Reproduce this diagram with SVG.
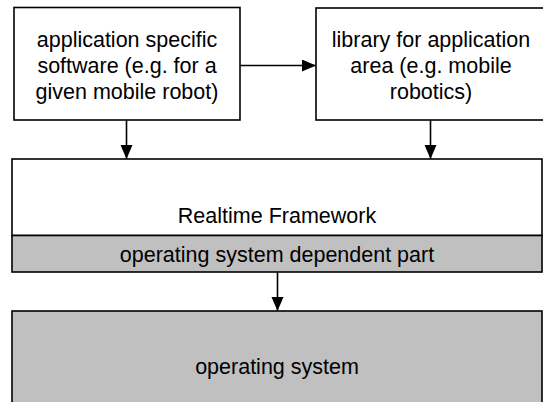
<svg xmlns="http://www.w3.org/2000/svg" width="543" height="402" viewBox="0 0 543 402">
  <style>
    .box { fill: #ffffff; stroke: #000000; stroke-width: 1.6; }
    .grey { fill: #c0c0c0; stroke: #000000; stroke-width: 1.6; }
    .lbl { font-family: "Liberation Sans", Arial, sans-serif; font-size: 21.5px; fill: #000000; text-anchor: middle; }
    .wire { stroke: #000000; stroke-width: 1.6; fill: none; }
  </style>
  <defs>
    <marker id="arrow" markerUnits="userSpaceOnUse" markerWidth="16" markerHeight="14" refX="14" refY="6" orient="auto">
      <path d="M0,0 L14,6 L0,12 Z" fill="#000000"/>
    </marker>
  </defs>
  <rect width="543" height="402" fill="#ffffff"/>

  <g id="app-software">
    <rect class="box" x="14" y="7.5" width="226" height="112.5"/>
    <text class="lbl" x="127" y="47">application specific</text>
    <text class="lbl" x="127" y="73">software (e.g. for a</text>
    <text class="lbl" x="127" y="99">given mobile robot)</text>
  </g>

  <g id="app-library">
    <rect class="box" x="316" y="8" width="232" height="112"/>
    <text class="lbl" x="431" y="47">library for application</text>
    <text class="lbl" x="431" y="73">area (e.g. mobile</text>
    <text class="lbl" x="431" y="99">robotics)</text>
  </g>

  <g id="realtime-framework">
    <rect class="box" x="12" y="159" width="530" height="76.5"/>
    <text class="lbl" x="277" y="222.5">Realtime Framework</text>
    <rect class="grey" x="12" y="235.5" width="530" height="36.5"/>
    <text class="lbl" x="277" y="262">operating system dependent part</text>
  </g>

  <g id="operating-system">
    <rect class="grey" x="12" y="311" width="530" height="110"/>
    <text class="lbl" x="277" y="374">operating system</text>
  </g>

  <g id="connectors">
    <line class="wire" x1="240" y1="65.5" x2="316" y2="65.5" marker-end="url(#arrow)"/>
    <line class="wire" x1="126.5" y1="120" x2="126.5" y2="159" marker-end="url(#arrow)"/>
    <line class="wire" x1="430.5" y1="120" x2="430.5" y2="159" marker-end="url(#arrow)"/>
    <line class="wire" x1="277.5" y1="272" x2="277.5" y2="311" marker-end="url(#arrow)"/>
  </g>
</svg>
